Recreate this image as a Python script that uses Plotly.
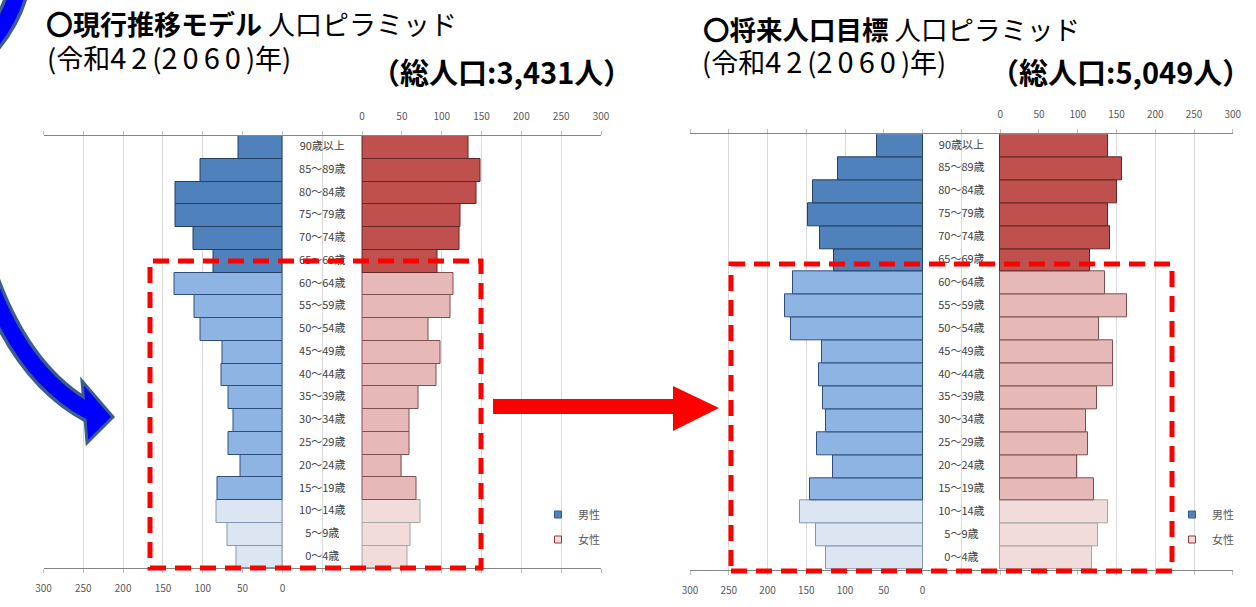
import plotly.graph_objects as go

W, H = 1256, 607
FONT = "Noto Sans CJK JP"

# ---------------- data ----------------
age_groups = ["0～4歳", "5～9歳", "10～14歳", "15～19歳", "20～24歳", "25～29歳",
              "30～34歳", "35～39歳", "40～44歳", "45～49歳", "50～54歳", "55～59歳",
              "60～64歳", "65～69歳", "70～74歳", "75～79歳", "80～84歳", "85～89歳",
              "90歳以上"]

# 現行推移モデル (2060)
current_male = [58, 69, 83, 82, 53, 68, 62, 68, 77, 75, 103, 110, 136, 86, 112, 134, 134, 103, 55]
current_female = [57, 61, 73, 68, 49, 60, 60, 71, 94, 99, 84, 111, 115, 95, 122, 124, 144, 149, 133]

# 将来人口目標 (2060)
target_male = [125, 137, 158, 145, 116, 136, 125, 129, 134, 130, 170, 177, 167, 114, 132, 148, 141, 109, 59]
target_female = [118, 126, 139, 121, 99, 113, 111, 125, 145, 145, 127, 163, 135, 116, 142, 139, 151, 157, 139]

tick_values = [0, 50, 100, 150, 200, 250, 300]
series_names = ["男性", "女性"]

DIG = "<span style='font-size:29px;letter-spacing:5px'>{}</span>"
year_line = "(令和" + DIG.format("42") + "(" + DIG.format("2060") + ")年)"
titles_left = ["<b>〇現行推移モデル</b> 人口ピラミッド", year_line, "<b>（総人口:3,431人）</b>"]
titles_right = ["<b>〇将来人口目標</b> 人口ピラミッド", year_line, "<b>（総人口:5,049人）</b>"]

# ---------------- styles ----------------
def band(i):
    # 0-14: young, 15-64: working, 65+: elderly
    return 0 if i <= 2 else (1 if i <= 12 else 2)

MALE_FILL = ["#DCE6F2", "#8EB4E3", "#4F81BD"]
FEMALE_FILL = ["#F2DCDB", "#E6B9B8", "#C0504D"]
MALE_LINE = ["#8497B0", "#2F4F7A", "#243F60"]
FEMALE_LINE = ["#A6A6A6", "#7F4F4E", "#632523"]


def p(x, y):
    return f"{x / W:.5f},{1 - y / H:.5f}"


fig = go.Figure()

panels = [
    dict(male=current_male, female=current_female, xm="x", xf="x2", y="y",
         dom_x=(43.5, 601), dom_y=(136, 568.4), legend="legend"),
    dict(male=target_male, female=target_female, xm="x3", xf="x4", y="y2",
         dom_x=(690, 1232.8), dom_y=(134.3, 569.5), legend="legend2"),
]

grid_vals = list(range(-400, 301, 50))
grid_text = [str(v) if v in tick_values else "" for v in grid_vals]

for k, pn in enumerate(panels):
    idx = [band(i) for i in range(len(age_groups))]
    fig.add_trace(go.Bar(
        x=pn["male"], y=age_groups, orientation="h", xaxis=pn["xm"], yaxis=pn["y"],
        name=series_names[0], showlegend=False, hoverinfo="x+y",
        marker=dict(color=[MALE_FILL[b] for b in idx],
                    line=dict(color=[MALE_LINE[b] for b in idx], width=1)),
    ))
    fig.add_trace(go.Bar(
        x=pn["female"], y=age_groups, orientation="h", xaxis=pn["xf"], yaxis=pn["y"],
        name=series_names[1], showlegend=False, hoverinfo="x+y",
        marker=dict(color=[FEMALE_FILL[b] for b in idx],
                    line=dict(color=[FEMALE_LINE[b] for b in idx], width=1)),
    ))
    # category labels in the gap between the halves
    fig.add_trace(go.Scatter(
        x=[-50] * len(age_groups), y=age_groups, mode="text", text=age_groups,
        textfont=dict(family=FONT, size=11, color="#404040"),
        xaxis=pn["xf"], yaxis=pn["y"], showlegend=False, hoverinfo="skip",
    ))
    # legend entries
    fig.add_trace(go.Scatter(
        x=[None], y=[None], mode="markers", name=series_names[0], xaxis=pn["xf"], yaxis=pn["y"],
        marker=dict(symbol="square", size=7, color="#4F81BD", line=dict(color="#385D8A", width=1)),
        legend=pn["legend"], legendgroup=f"m{k}",
    ))
    fig.add_trace(go.Scatter(
        x=[None], y=[None], mode="markers", name=series_names[1], xaxis=pn["xf"], yaxis=pn["y"],
        marker=dict(symbol="square", size=7, color="#F2DCDB", line=dict(color="#8C3836", width=1)),
        legend=pn["legend"], legendgroup=f"f{k}",
    ))

axis_common = dict(
    tickvals=grid_vals, ticktext=grid_text, showgrid=True, gridcolor="#D9D9D9", gridwidth=1,
    zeroline=False, showline=True, linecolor="#868686", linewidth=1,
    ticks="outside", ticklen=4, tickcolor="#BFBFBF", automargin=False,
    tickfont=dict(family=FONT, size=10, color="#595959"), fixedrange=True,
)

layout_axes = {}
for k, pn in enumerate(panels):
    dx = [pn["dom_x"][0] / W, pn["dom_x"][1] / W]
    dy = [1 - pn["dom_y"][1] / H, 1 - pn["dom_y"][0] / H]
    xm = "xaxis" if pn["xm"] == "x" else "xaxis" + pn["xm"][1:]
    xf = "xaxis" + pn["xf"][1:]
    ya = "yaxis" if pn["y"] == "y" else "yaxis" + pn["y"][1:]
    layout_axes[xm] = dict(axis_common, domain=dx, range=[300, -400], side="bottom",
                           anchor=pn["y"], ticklabelstandoff=7)
    layout_axes[xf] = dict(axis_common, range=[-400, 300], side="top", overlaying=pn["xm"],
                           anchor=pn["y"], ticklabelstandoff=7)
    layout_axes[ya] = dict(domain=dy, type="category", categoryorder="array",
                           categoryarray=age_groups, range=[-0.5, len(age_groups) - 0.5],
                           showticklabels=False, showgrid=False, zeroline=False,
                           showline=False, ticks="", anchor=pn["xm"], fixedrange=True,
                           automargin=False)

fig.update_layout(**layout_axes)

legend_common = dict(
    font=dict(family=FONT, size=11, color="#595959"), bgcolor="rgba(0,0,0,0)",
    itemwidth=30, tracegroupgap=6, xanchor="left", yanchor="top", itemclick=False,
    itemdoubleclick=False,
)
fig.update_layout(
    legend=dict(legend_common, x=538 / W, y=1 - 500 / H),
    legend2=dict(legend_common, x=1172 / W, y=1 - 500 / H),
)

# ---------------- titles ----------------
annotations = []
for texts, x0, ys, xt, yt, s in [
    (titles_left, (44, 45), (23, 56), 369, 70.5, 27),
    (titles_right, (701, 700), (29, 60), 988, 70.5, 26.5),
]:
    annotations.append(dict(text=texts[0], x=x0[0] / W, y=1 - ys[0] / H, font_size=s))
    annotations.append(dict(text=texts[1], x=x0[1] / W, y=1 - ys[1] / H, font_size=27))
    annotations.append(dict(text=texts[2], x=xt / W, y=1 - yt / H, font_size=29))
for a in annotations:
    a.update(xref="paper", yref="paper", xanchor="left", yanchor="middle", showarrow=False,
             font=dict(family=FONT, size=a.pop("font_size"), color="#000000"))

# ---------------- decorative shapes ----------------
shapes = []
# red dashed highlight boxes
for (x0, y0, x1, y1) in [(150, 261, 481, 568), (731, 264, 1172, 571)]:
    shapes.append(dict(type="rect", xref="paper", yref="paper",
                       x0=x0 / W, x1=x1 / W, y0=1 - y1 / H, y1=1 - y0 / H,
                       line=dict(color="#FF0000", width=5, dash="16px,9px"),
                       fillcolor="rgba(0,0,0,0)", layer="above"))
# red block arrow
red_arrow = [(493, 399), (673, 399), (673, 386), (719, 408), (673, 431), (673, 414), (493, 414)]
shapes.append(dict(type="path", xref="paper", yref="paper",
                   path="M " + " L ".join(p(x, y) for x, y in red_arrow) + " Z",
                   fillcolor="#FF0000", line=dict(width=0)))
# blue curved arrow
upper = f"M {p(19, -14)} Q {p(12, 18)} {p(-12, 46)}"
lower = f"M {p(-16, 268)} Q {p(20, 375)} {p(90, 412)}"
for path in (upper, lower):
    shapes.append(dict(type="path", xref="paper", yref="paper", path=path,
                       line=dict(color="#3B5E8C", width=23)))
head = [(82, 381), (113, 417), (87, 443)]
shapes.append(dict(type="path", xref="paper", yref="paper",
                   path="M " + " L ".join(p(x, y) for x, y in head) + " Z",
                   fillcolor="#0000FF", line=dict(color="#3B5E8C", width=3)))
for path in (upper, lower):
    shapes.append(dict(type="path", xref="paper", yref="paper", path=path,
                       line=dict(color="#0000FF", width=16)))

fig.update_layout(
    width=W, height=H, margin=dict(l=0, r=0, t=0, b=0, autoexpand=False),
    paper_bgcolor="#FFFFFF", plot_bgcolor="rgba(0,0,0,0)",
    barmode="overlay", bargap=0,
    font=dict(family=FONT),
    annotations=annotations, shapes=shapes,
)

fig.write_html(
    "out.html",
    config={"displayModeBar": False},
    post_script="document.body.style.margin='0';document.body.style.overflow='hidden';",
)
